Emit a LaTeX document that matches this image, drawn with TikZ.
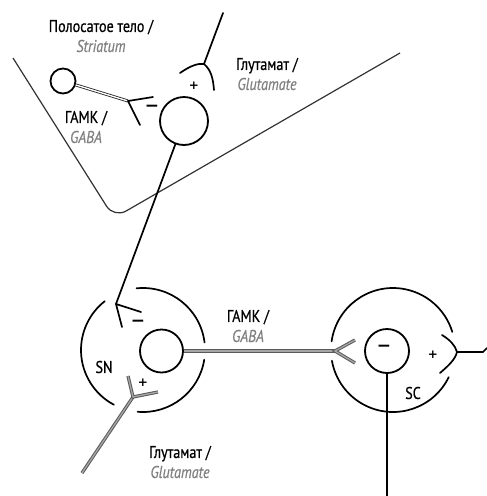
\documentclass[tikz,border=0pt]{standalone}
\usepackage{fontspec}
\setmainfont[FakeStretch=0.83,FakeBold=0.6]{PT Sans}
\newfontfamily\signfont{DejaVu Sans}
\newcommand\engl[1]{{\color{black!50}\itshape #1}}
\begin{document}
\begin{tikzpicture}[x=1pt,y=-1pt,
  nerve/.style={line width=1.7pt, line cap=round, line join=round},
  soma/.style={circle, draw, line width=1.8pt, inner sep=0pt, minimum size=#1},
  fiberk/.style={draw=black!85, line width=0.85pt, double=white, double distance=1.3pt},
  fiberg/.style={draw=black!65, line width=1pt, double=black!35, double distance=1.3pt},
  border/.style={draw=black!80, line width=1.2pt, rounded corners=14pt},
  lab/.style={align=center, font=\fontsize{17}{20}\selectfont, inner sep=0pt},
  sign/.style={font=\signfont\bfseries\fontsize{#1}{#1}\selectfont, inner sep=0pt}
]
\useasboundingbox (0,0) rectangle (487,496);

% striatum boundary
\coordinate (bA) at (13,58);
\coordinate (bB) at (114,218);
\coordinate (bC) at (400,53);
\draw[border] (bA) -- (bB) -- (bC);

% labels
\node[lab] (tStr) at (101,36) {Полосатое тело /\\\engl{Striatum}};
\node[lab] (tGaba1) at (86,127) {ГАМК /\\\engl{GABA}};
\node[lab] (tGlu1) at (267,74) {Глутамат /\\\engl{Glutamate}};
\node[lab] (tGaba2) at (248,326) {ГАМК /\\\engl{GABA}};
\node[lab] (tGlu2) at (180,462) {Глутамат /\\\engl{Glutamate}};
\node[lab] (tSN) at (104,367) {SN};
\node[lab] (tSC) at (413,393) {SC};

% somata
\node[soma=25pt] (s1) at (63,81) {};
\node[soma=48pt] (s2) at (184,121) {};
\node[soma=43pt] (sn) at (161.5,351) {};
\node[soma=44pt] (sc) at (387,351) {};

% signs
\node[sign=17] (m1) at (152,108) {−};
\node[sign=12] (p1) at (194,86) {+};
\node[sign=17] (m2) at (138,323) {−};
\node[sign=12] (p2) at (143,383) {+};
\node[sign=17] (m3) at (384,348) {−};
\node[sign=12] (p3) at (433,355) {+};

% striatal GABA fibre onto the large striatal cell
\coordinate (f1) at (128,101);
\coordinate (f1a) at (153,97);
\coordinate (f1b) at (140,125);
\draw[fiberk] (s1) -- (f1);
\draw[nerve] (f1a) -- (f1) -- (f1b);

% glutamate input to striatum
\coordinate (g1) at (223,13);
\coordinate (f3) at (204,64);
\coordinate (f3a) at (180,73);
\coordinate (f3b) at (214,90);
\draw[nerve] (g1) -- (f3);
\draw[nerve] (f3a) .. controls (190,66) and (198,63) .. (f3) .. controls (211,70) and (213,78) .. (f3b);

% striatal axon to SN
\coordinate (f2) at (116,304);
\coordinate (f2a) at (141,312);
\coordinate (f2b) at (122,327);
\draw[nerve] (s2) -- (f2);
\draw[nerve] (f2a) -- (f2) -- (f2b);

% SN envelope
\coordinate (cSN) at (143,350);
\draw[nerve] (cSN) ++(-96:62) arc[start angle=-96, end angle=-7, radius=62];
\draw[nerve] (cSN) ++(9:62) arc[start angle=9, end angle=95, radius=62];
\draw[nerve] (cSN) ++(118:62) arc[start angle=118, end angle=232, radius=62];

% glutamate input to SN
\coordinate (g2) at (82,473);
\coordinate (f5) at (133,397);
\coordinate (f5a) at (128,376);
\coordinate (f5b) at (158,392);
\draw[fiberg] (g2) -- (f5);
\draw[fiberg] (f5a) -- (f5) -- (f5b);

% SN GABA projection to SC
\coordinate (f4) at (335,351);
\coordinate (f4a) at (355,340);
\coordinate (f4b) at (355,363);
\draw[fiberg] (sn) -- (f4);
\draw[fiberg] (f4a) -- (f4) -- (f4b);

% SC envelope
\coordinate (cSC) at (393,350);
\draw[nerve] (cSC) ++(-172:62) arc[start angle=-172, end angle=-17, radius=62];
\draw[nerve] (cSC) ++(26:62) arc[start angle=26, end angle=170, radius=62];

% SC output axon
\coordinate (o1) at (387,496);
\draw[nerve] (sc) -- (o1);

% excitatory input to SC
\coordinate (f6) at (457,352);
\coordinate (f6a) at (442,335);
\coordinate (f6b) at (440,373);
\coordinate (g3) at (483,352);
\coordinate (g3e) at (487,348);
\draw[nerve] (f6a) .. controls (450,340) and (455,345) .. (f6) .. controls (455,360) and (448,366) .. (f6b);
\draw[nerve] (f6) -- (g3) -- (g3e);
\end{tikzpicture}
\end{document}
